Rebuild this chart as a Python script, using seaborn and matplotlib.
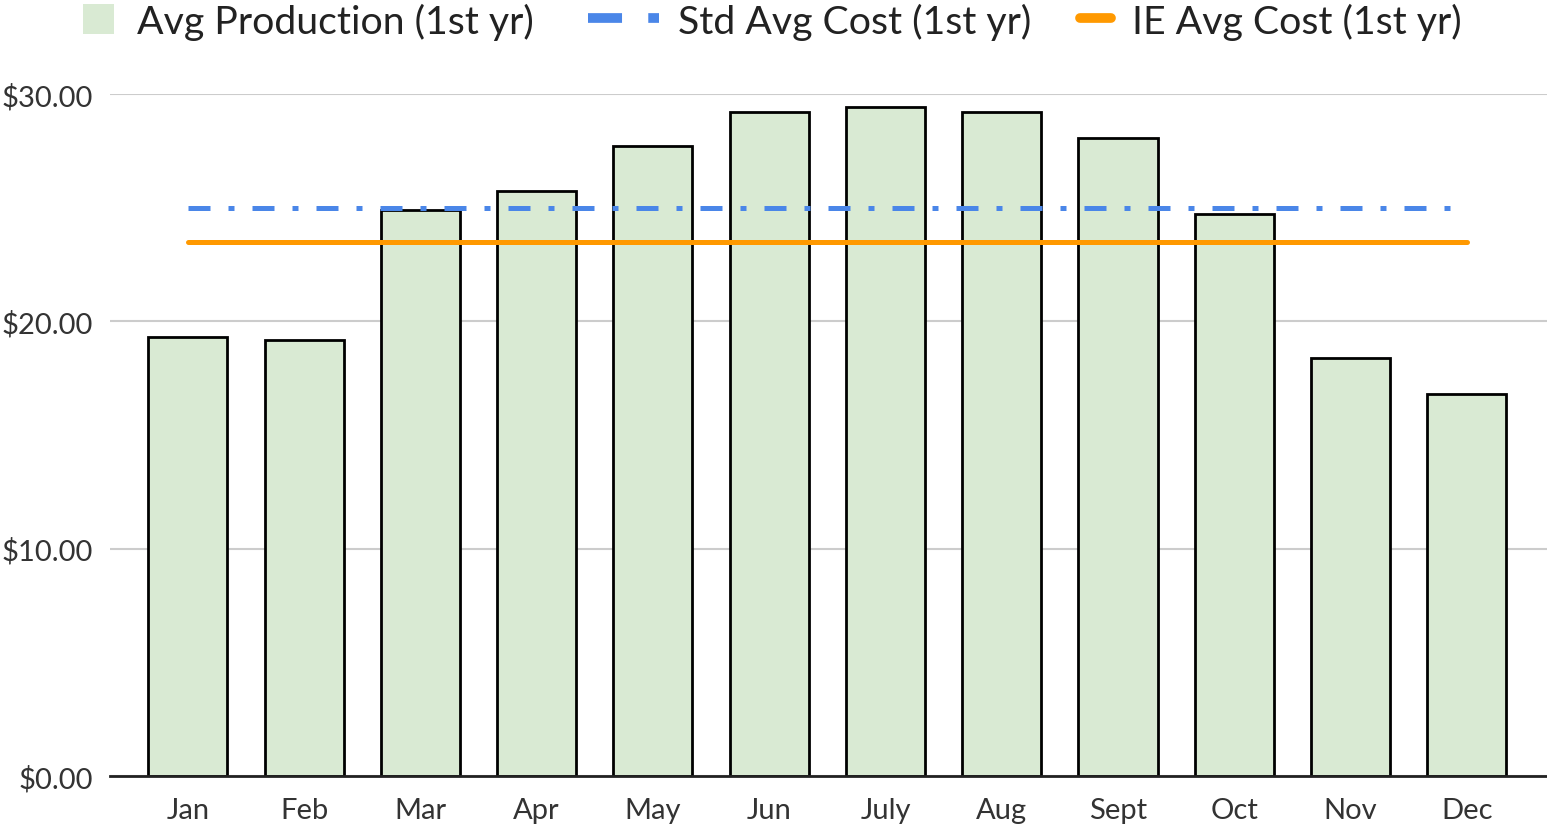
import numpy as np
import pandas as pd
import seaborn as sns
import matplotlib.pyplot as plt
from matplotlib.patches import Patch
from matplotlib.lines import Line2D
from matplotlib.ticker import FuncFormatter

months = ['Jan', 'Feb', 'Mar', 'Apr', 'May', 'Jun', 'July', 'Aug', 'Sept', 'Oct', 'Nov', 'Dec']
avg_production = [19.3, 19.2, 24.9, 25.75, 27.7, 29.2, 29.45, 29.2, 28.05, 24.7, 18.4, 16.8]
std_avg_cost = [25.0] * 12
ie_avg_cost = [23.5] * 12

df = pd.DataFrame({'month': months, 'production': avg_production,
                   'std_cost': std_avg_cost, 'ie_cost': ie_avg_cost})

sns.set_theme(style='white')
plt.rcParams['font.family'] = ['Lato', 'DejaVu Sans']

fig = plt.figure(figsize=(15.47, 8.29), dpi=100)
ax = fig.add_axes([0.0711, 0.0627, 0.9289, 0.8227])

sns.barplot(data=df, x='month', y='production', color='#d9ead3', saturation=1,
            edgecolor='black', linewidth=2.0, width=0.68, ax=ax, zorder=2)

# cost lines drawn over the bars
ax.plot(df['month'], df['std_cost'], color='#4a86e8', lw=3.6,
        dashes=(4.4, 3.6, 1.2, 3.6), zorder=3)
ax.plot(df['month'], df['ie_cost'], color='#ff9900', lw=3.6, zorder=3)

ax.set_ylim(0, 30)
ax.set_xlim(-0.67, 11.69)
ax.set_yticks([0, 10, 20, 30])
ax.yaxis.set_major_formatter(FuncFormatter(lambda v, p: f'${v:.2f}'))
ax.grid(axis='y', color='#cccccc', lw=1.5, zorder=0)
ax.set_axisbelow(True)
for s in ['top', 'right', 'left']:
    ax.spines[s].set_visible(False)
ax.spines['bottom'].set_color('#222222')
ax.spines['bottom'].set_linewidth(2)
ax.spines['bottom'].set_zorder(4)
ax.tick_params(axis='both', length=0, labelsize=21, colors='#333333')
ax.tick_params(axis='x', pad=15)
ax.tick_params(axis='y', pad=12)
ax.set_xlabel('')
ax.set_ylabel('')

# legend: three separate entries so each handle gets its own length
entries = [
    (Patch(facecolor='#d9ead3', edgecolor='none', label='Avg Production (1st yr)'), 83, 0.8, 0.57),
    (Line2D([], [], color='#4a86e8', lw=7, dashes=(3.5, 2.7, 1.2, 2.7),
            label='Std Avg Cost (1st yr)'), 588, 1.8, 0.5),
    (Line2D([], [], color='#ff9900', lw=7, label='IE Avg Cost (1st yr)'), 1080, 0.8, 0.52),
]
for h, x0, hl, tp in entries:
    leg = fig.legend(handles=[h], loc='center left', bbox_to_anchor=(x0 / 1547, 1 - 22 / 829),
                     frameon=False, fontsize=28.3, handlelength=hl, handleheight=0.8,
                     handletextpad=tp, borderpad=0, borderaxespad=0)
    for t in leg.get_texts():
        t.set_color('#222222')

fig.savefig('out.png', dpi=100)
